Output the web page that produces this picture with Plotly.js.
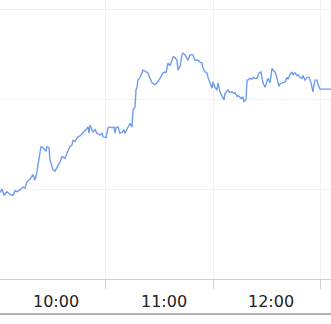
<!DOCTYPE html>
<html>
<head>
<meta charset="utf-8">
<script src="https://cdn.plot.ly/plotly-3.0.1.min.js"></script>
<style>
html,body{margin:0;padding:0;background:#fff;}
#chart{width:331px;height:324px;}
</style>
</head>
<body>
<div id="chart"></div>
<script>
const DAY = "2024-01-02";

const times = [
"10:01:07","10:02:14","10:03:21","10:05:01","10:06:41","10:08:22","10:09:29","10:10:36","10:12:16","10:13:56",
"10:15:03","10:16:10","10:17:51","10:19:31","10:20:38","10:21:45","10:22:18","10:23:25","10:23:59","10:25:06",
"10:26:46","10:27:19","10:28:26","10:29:00","10:30:07","10:30:40","10:31:47","10:32:54","10:34:34","10:35:41",
"10:37:22","10:38:29","10:40:09","10:41:16","10:41:49","10:42:56","10:44:37","10:45:44","10:47:24","10:49:04",
"10:50:11","10:50:45","10:51:18","10:52:25","10:52:58","10:54:05","10:55:12","10:56:53","10:58:00","10:58:33",
"11:00:13","11:01:20","11:02:27","11:03:34","11:04:41","11:05:15","11:05:48","11:06:55","11:08:02","11:09:09",
"11:10:16","11:10:49","11:12:29","11:13:36","11:14:43","11:15:17","11:16:24","11:16:57","11:17:31","11:18:04",
"11:19:11","11:20:18","11:20:51","11:21:58","11:23:05","11:23:39","11:24:46","11:25:52","11:27:33","11:28:40",
"11:30:20","11:32:00","11:33:07","11:33:41","11:34:48","11:35:55","11:37:02","11:37:35","11:38:42","11:39:49",
"11:40:22","11:41:29","11:42:36","11:43:10","11:44:16","11:45:57","11:47:04","11:48:44","11:49:51","11:51:31",
"11:52:38","11:53:45","11:54:19","11:55:26","11:56:33","11:57:06","11:58:13","11:59:20","11:59:53","12:01:00",
"12:02:07","12:02:41","12:03:47","12:04:54","12:06:01","12:06:35","12:07:42","12:08:15","12:09:22","12:10:29",
"12:11:36","12:12:09","12:13:16","12:13:50","12:14:57","12:15:30","12:16:37","12:17:10","12:18:17","12:18:51",
"12:19:24","12:20:31","12:21:38","12:22:12","12:23:18","12:24:25","12:25:32","12:26:39","12:27:46","12:28:53",
"12:29:27","12:30:33","12:31:40","12:32:47","12:33:21","12:34:28","12:35:35","12:36:41","12:37:15","12:38:22",
"12:40:02","12:41:09","12:41:43","12:42:49","12:43:56","12:44:30","12:45:37","12:46:44","12:47:17","12:48:24",
"12:49:31","12:50:04","12:51:11","12:52:18","12:53:25","12:54:32","12:55:06","12:55:39","12:56:12","12:56:46",
"12:57:53","12:58:26","12:59:33","13:06:00"
];

const prices = [
50.96,51.00,50.93,50.97,50.94,50.93,50.98,50.97,50.99,51.02,
51.01,51.08,51.11,51.16,51.10,51.19,51.27,51.43,51.47,51.46,
51.42,51.47,51.46,51.32,51.23,51.21,51.20,51.24,51.30,51.36,
51.34,51.40,51.47,51.49,51.54,51.53,51.58,51.59,51.62,51.66,
51.69,51.62,51.71,51.66,51.63,51.66,51.62,51.60,51.62,51.58,
51.57,51.68,51.69,51.68,51.69,51.62,51.68,51.69,51.62,51.63,
51.66,51.62,51.69,51.73,51.69,51.88,51.91,52.10,52.13,52.21,
52.24,52.30,52.32,52.31,52.30,52.29,52.23,52.18,52.16,52.18,
52.23,52.29,52.30,52.29,52.40,52.37,52.43,52.47,52.46,52.43,
52.32,52.36,52.49,52.51,52.49,52.43,52.49,52.49,52.43,52.43,
52.41,52.40,52.34,52.30,52.29,52.24,52.18,52.12,52.19,52.13,
52.10,52.18,52.08,52.04,51.99,52.06,52.08,52.10,52.07,52.08,
52.06,52.07,52.03,52.04,52.02,52.01,52.02,51.97,51.99,52.21,
52.21,52.23,52.22,52.24,52.23,52.23,52.29,52.30,52.18,52.13,
52.16,52.23,52.18,52.34,52.32,52.30,52.23,52.14,52.17,52.18,
52.19,52.24,52.22,52.27,52.30,52.27,52.29,52.26,52.27,52.24,
52.23,52.26,52.21,52.24,52.24,52.18,52.10,52.08,52.16,52.21,
52.21,52.16,52.11,52.11
];

// hour labels, drawn in the middle of each hour band
const labelTimes = ["10:32:30", "11:32:30", "12:32:30"];
const labelText = ["10:00", "11:00", "12:00"];

const xRange = ["10:01:07", "13:05:41"];
const yRange = [50, 53.1];

const trace = {
  type: "scatter",
  mode: "lines",
  x: times.map(t => DAY + " " + t),
  y: prices,
  line: {color: "rgb(112,156,238)", width: 1.4},
  hoverinfo: "skip"
};

const PLOT_H = 279;

const layout = {
  width: 331,
  height: 324,
  margin: {l: 0, r: 0, t: 0, b: 45},
  paper_bgcolor: "#ffffff",
  plot_bgcolor: "#ffffff",
  showlegend: false,
  xaxis: {
    type: "date",
    range: xRange.map(t => DAY + " " + t),
    tick0: DAY + " 10:00:00",
    dtick: 3600000,
    showticklabels: false,
    ticks: "outside",
    ticklen: 9,
    tickwidth: 1,
    tickcolor: "#cfd3d3",
    showline: true,
    linecolor: "#cfd3d3",
    linewidth: 1,
    showgrid: true,
    gridcolor: "#eef2f2",
    gridwidth: 1,
    zeroline: false,
    fixedrange: true
  },
  yaxis: {
    range: yRange,
    tick0: 50,
    dtick: 1,
    showticklabels: false,
    ticks: "",
    showgrid: true,
    gridcolor: "#eef2f2",
    gridwidth: 1,
    zeroline: false,
    showline: false,
    fixedrange: true
  },
  annotations: labelTimes.map((t, i) => ({
    xref: "x", yref: "paper",
    x: DAY + " " + t,
    y: -22 / PLOT_H,
    xanchor: "center", yanchor: "middle",
    text: labelText[i],
    showarrow: false,
    font: {family: "DejaVu Sans", size: 16, color: "#222222"}
  })),
  shapes: [{
    type: "line",
    xref: "paper", yref: "paper",
    x0: 0, x1: 1,
    y0: -35 / PLOT_H, y1: -35 / PLOT_H,
    line: {color: "#9a9a9a", width: 1.5}
  }]
};

Plotly.newPlot("chart", [trace], layout, {displayModeBar: false, staticPlot: true});
</script>
</body>
</html>
